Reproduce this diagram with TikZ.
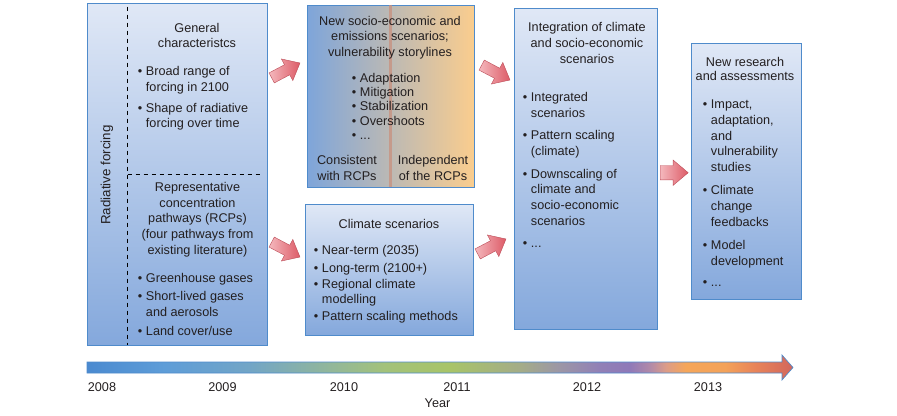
\documentclass[tikz,border=0pt]{standalone}
\usepackage{fontspec}
\setmainfont{Liberation Sans}
\usetikzlibrary{shapes.arrows,calc}

\definecolor{boxtop}{HTML}{E0E8F6}
\definecolor{boxbot}{HTML}{84A8DC}
\definecolor{boxline}{HTML}{4F8BCB}
\definecolor{txt}{HTML}{231F20}
\definecolor{socioleft}{HTML}{7EA5DA}
\definecolor{socioright}{HTML}{FACD8E}
\definecolor{divcol}{HTML}{C9907E}
\definecolor{arrowtail}{HTML}{F4B8BD}
\definecolor{arrowtip}{HTML}{DD5B67}
\definecolor{tlA}{HTML}{4A8AD0}
\definecolor{tlB}{HTML}{5E9DD8}
\definecolor{tlC}{HTML}{72A5C6}
\definecolor{tlD}{HTML}{92B79A}
\definecolor{tlE}{HTML}{A3C27A}
\definecolor{tlF}{HTML}{A8C468}
\definecolor{tlG}{HTML}{A4AC88}
\definecolor{tlH}{HTML}{9C96A6}
\definecolor{tlI}{HTML}{9180B6}
\definecolor{tlJ}{HTML}{8F79B8}
\definecolor{tlK}{HTML}{B28AA8}
\definecolor{tlL}{HTML}{DC9C88}
\definecolor{tlM}{HTML}{F5A65A}
\definecolor{tlN}{HTML}{F3A25A}
\definecolor{tlO}{HTML}{E8845A}
\definecolor{tlP}{HTML}{D2665C}

\pgfdeclarehorizontalshading{timeline}{100bp}{color(0bp)=(tlA); color(25bp)=(tlA);
  color(30.5bp)=(tlB); color(36.5bp)=(tlC); color(42.2bp)=(tlD); color(46.1bp)=(tlE);
  color(50.7bp)=(tlF); color(55.7bp)=(tlG); color(58.5bp)=(tlH); color(61.3bp)=(tlI);
  color(63.4bp)=(tlJ); color(64.9bp)=(tlK); color(66bp)=(tlL); color(67.4bp)=(tlM);
  color(70.2bp)=(tlN); color(72.3bp)=(tlO); color(75bp)=(tlP); color(100bp)=(tlP)}

\newcommand{\bitem}{\makebox[6pt][l]{\textbullet}}
\newcommand{\bcont}{\hspace*{6pt}}

\begin{document}
\begin{tikzpicture}[x=0.75pt, y=-0.75pt,
		box/.style={draw=boxline, line width=0.6pt, top color=boxtop, bottom color=boxbot, inner sep=0},
		ttl/.style={anchor=north, align=center, inner sep=0, text=txt, font=\fontsize{9.5}{#1}\selectfont},
		ttl/.default=11.6pt,
		blist/.style={anchor=north west, align=left, inner sep=0, text=txt, font=\fontsize{9.5}{#1}\selectfont},
		blist/.default=11.6pt,
		blockarrow/.style={single arrow, single arrow tip angle=80, inner xsep=0, inner ysep=4.1pt,
				minimum height=24pt, single arrow head extend=4.9pt,
				left color=arrowtail, right color=arrowtip, draw=arrowtip!85!black, line width=0.3pt, anchor=tail},
		dashline/.style={dash pattern=on 3.5pt off 2.5pt, line width=0.6pt, black},
		yr/.style={text=txt, inner sep=0, font=\fontsize{9.5}{11}\selectfont}]
	\useasboundingbox (0,0) rectangle (897,415);

	% boxes
	\node[box, minimum width=135pt, minimum height=256.5pt] (rf) at (177,174) {};
	\node[box, left color=socioleft, right color=socioright,
		minimum width=125.25pt, minimum height=136.5pt] (socio) at (390.5,96) {};
	\node[box, minimum width=126pt, minimum height=98.25pt] (clim) at (389,269.5) {};
	\node[box, minimum width=107.25pt, minimum height=240.75pt] (integ) at (585.5,168.5) {};
	\node[box, minimum width=82.5pt, minimum height=192pt] (research) at (746,171) {};

	\draw[dashline] ($(rf.north west)+(41,4)$) -- ($(rf.south west)+(41,0)$);
	\draw[dashline] ($(rf.west)+(41,0)$) -- ($(rf.east)+(-5,0)$);
	\draw[divcol, opacity=0.75, line width=1.8pt] (socio.north) -- (socio.south);

	% radiative forcing
	\node[text=txt, rotate=90, inner sep=0, font=\fontsize{10}{12}\selectfont] (rflabel) at (107,175) {Radiative forcing};
	\node[ttl=11.25pt] (genttl) at (197,23) {General\\characteristcs};
	\node[blist=11.8pt] (genlist) at (137.7,66) {\bitem Broad range of\\\bcont forcing in 2100\\[4pt]
		\bitem Shape of radiative\\\bcont forcing over time};
	\node[ttl=11.8pt] (rcpttl) at (197.5,182) {Representative\\concentration\\pathways (RCPs)\\(four pathways from\\existing literature)};
	\node[blist=11.8pt] (rcplist) at (137.7,273) {\bitem Greenhouse gases\\[1.7pt]
		\bitem Short-lived gases\\\bcont and aerosols\\[2.5pt]
		\bitem Land cover/use};

	% socio-economic scenarios
	\node[ttl] (socttl) at (390,16) {New socio-economic and\\emissions scenarios;\\vulnerability storylines};
	\node[blist=10.7pt] (soclist) at (351.7,73) {\bitem Adaptation\\\bitem Mitigation\\\bitem Stabilization\\\bitem Overshoots\\\bitem ...};
	\node[ttl=12pt] (consist) at (347,155) {Consistent\\with RCPs};
	\node[ttl=12pt] (indep) at (433,155) {Independent\\of the RCPs};

	% climate scenarios
	\node[ttl] (climttl) at (389,219) {Climate scenarios};
	\node[blist] (climlist) at (313.7,245) {\bitem Near-term (2035)\\[1.8pt]
		\bitem Long-term (2100+)\\[0.4pt]
		\bitem Regional climate\\\bcont modelling\\[1.1pt]
		\bitem Pattern scaling methods};

	% integration
	\node[ttl=12pt] (intttl) at (587,22) {Integration of climate\\and socio-economic\\scenarios};
	\node[blist=11.7pt] (intlist) at (522.7,92) {\bitem Integrated\\\bcont scenarios\\[5.4pt]
		\bitem Pattern scaling\\\bcont (climate)\\[5.4pt]
		\bitem Downscaling of\\\bcont climate and\\\bcont socio-economic\\\bcont scenarios\\[5.4pt]
		\bitem ...};

	% research
	\node[ttl=10.9pt] (resttl) at (745,57) {New research\\and assessments};
	\node[blist=11.7pt] (reslist) at (702.7,100) {\bitem Impact,\\\bcont adaptation,\\\bcont and\\\bcont vulnerability\\\bcont studies\\[6pt]
		\bitem Climate\\\bcont change\\\bcont feedbacks\\[6pt]
		\bitem Model\\\bcont development\\[3.8pt]
		\bitem ...};

	% block arrows
	\node[blockarrow, rotate=27.8] (a1) at (271.5,78) {};
	\node[blockarrow, rotate=-27.8] (a2) at (271.5,242) {};
	\node[blockarrow, rotate=-27.8] (a3) at (481.5,65) {};
	\node[blockarrow, rotate=27.8] (a4) at (477.5,254) {};
	\node[blockarrow, minimum height=21pt, inner ysep=5.25pt, single arrow head extend=4.1pt] (a5) at (660,172.7) {};

	% time line
	\shade[shading=timeline, draw=boxline, line width=0.5pt]
	(87,362) -- (782,362) -- (782,355) -- (793,367.5) -- (782,380) -- (782,373) -- (87,373) -- cycle;
	\foreach \yr/\xx in {2008/102, 2009/222.5, 2010/344, 2011/457, 2012/587, 2013/708} {
			\node[yr] (y\yr) at (\xx,387) {\yr};
		}
	\node[yr] (yearlabel) at (437.5,403) {Year};
\end{tikzpicture}
\end{document}
